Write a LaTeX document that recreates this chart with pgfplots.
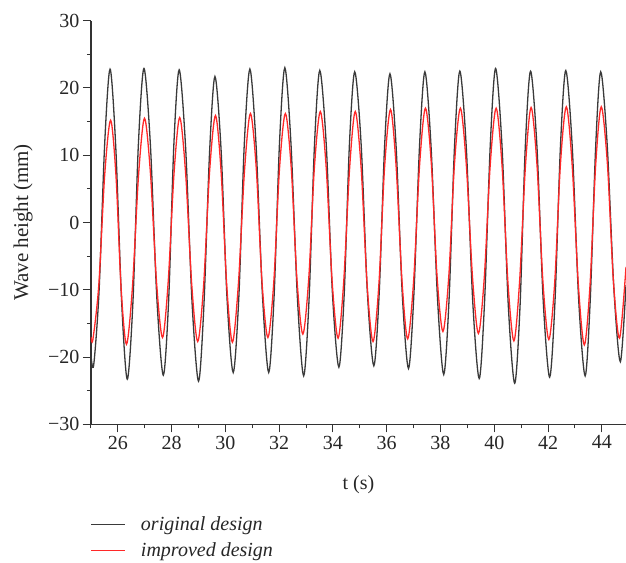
\documentclass[border=0pt]{standalone}
\usepackage{fontspec}
\setmainfont{Liberation Serif}
\usepackage{pgfplots}
\pgfplotsset{compat=1.18}
\definecolor{origc}{HTML}{3A3A3A}
\definecolor{imprc}{HTML}{FF2828}
\definecolor{axc}{HTML}{333333}
\newcommand{\ff}{\fontsize{20bp}{24bp}\selectfont}
\begin{document}
\begin{tikzpicture}
\begin{axis}[
  at={(0,0)}, anchor=south west,
  scale only axis, width=535bp, height=403.6bp,
  xmin=25, xmax=44.9, ymin=-30, ymax=30,
  axis lines=left,
  axis line style={-, draw=axc, line width=1.2bp},
  x axis line style={shorten <=-8bp},
  xtick={26,28,...,44}, xticklabels={26,28,30,32,34,36,38,40,42,44},
  minor xtick={25,27,...,45},
  ytick={-30,-20,...,30}, yticklabels={−30,−20,−10,0,10,20,30},
  minor ytick={-25,-15,...,25},
  tick align=outside, major tick length=8bp, minor tick length=4bp,
  every tick/.style={draw=axc, line width=1bp},
  tick label style={font=\ff, text=black!85},
  xlabel={t (s)}, ylabel={Wave height (mm)},
  label style={font=\ff, text=black!85},
  xlabel style={at={(axis description cs:0.5,-0.1487)}, anchor=center},
  ylabel style={at={(axis description cs:-0.1271,0.5)}, anchor=center, font=\fontsize{21bp}{25bp}\selectfont},
  legend style={at={(axis description cs:0,-0.2297)}, anchor=north west,
    draw=none, fill=none, inner sep=0pt, outer sep=0pt,
    font=\ff\itshape, text=black!85, row sep=10bp, column sep=15bp,
    nodes={inner sep=0pt}},
  legend cell align=left,
  legend image code/.code={\draw[#1, line width=1bp] (0bp,0bp) -- (34bp,0bp);},
  clip=true,
]
\addplot[origc, line width=1.3bp, smooth] coordinates {
(25.00,-19.8)(25.10,-21.2)(25.30,-10.2)(25.51,11.8)(25.71,22.8)(25.92,11.3)(26.14,-11.8)(26.35,-23.3)
(26.56,-11.8)(26.76,11.4)(26.97,22.9)(27.21,11.5)(27.45,-11.3)(27.69,-22.7)(27.89,-11.4)(28.08,11.4)
(28.28,22.7)(28.52,11.1)(28.76,-12.0)(29.00,-23.6)(29.20,-12.3)(29.41,10.4)(29.61,21.7)(29.84,10.7)
(30.06,-11.3)(30.29,-22.3)(30.50,-11.0)(30.70,11.5)(30.91,22.8)(31.14,11.5)(31.38,-11.0)(31.61,-22.3)
(31.81,-11.0)(32.01,11.7)(32.21,23.0)(32.44,11.6)(32.68,-11.4)(32.91,-22.8)(33.11,-11.5)(33.31,11.3)
(33.51,22.6)(33.75,11.6)(33.98,-10.5)(34.22,-21.5)(34.42,-10.5)(34.61,11.4)(34.81,22.4)(35.05,11.5)
(35.28,-10.4)(35.52,-21.3)(35.72,-10.5)(35.92,11.3)(36.12,22.1)(36.35,11.2)(36.58,-10.8)(36.81,-21.7)
(37.01,-10.7)(37.22,11.4)(37.42,22.4)(37.65,11.2)(37.89,-11.4)(38.12,-22.6)(38.32,-11.3)(38.52,11.2)
(38.72,22.5)(38.96,11.1)(39.20,-11.8)(39.44,-23.2)(39.64,-11.7)(39.85,11.4)(40.05,22.9)(40.29,11.2)
(40.52,-12.2)(40.76,-23.9)(40.96,-12.3)(41.15,10.9)(41.35,22.5)(41.59,11.1)(41.82,-11.6)(42.06,-23.0)
(42.26,-11.6)(42.46,11.2)(42.66,22.6)(42.90,11.3)(43.14,-11.5)(43.38,-22.8)(43.57,-11.5)(43.77,11.1)
(43.96,22.4)(44.20,11.6)(44.45,-9.9)(44.69,-20.7)(44.90,-9.3)
};
\addlegendentry{original design}
\addplot[imprc, line width=1.3bp, smooth] coordinates {
(25.00,-17.0)(25.07,-17.4)(25.29,-9.3)(25.51,7.1)(25.73,15.2)(25.93,6.9)(26.12,-9.8)(26.32,-18.1)
(26.54,-9.7)(26.77,7.1)(26.99,15.5)(27.21,7.4)(27.44,-9.0)(27.66,-17.1)(27.87,-8.9)(28.09,7.4)
(28.30,15.6)(28.52,7.3)(28.75,-9.4)(28.97,-17.7)(29.19,-9.3)(29.41,7.5)(29.63,15.9)(29.84,7.5)
(30.05,-9.4)(30.26,-17.8)(30.48,-9.3)(30.71,7.7)(30.93,16.2)(31.15,7.9)(31.36,-8.8)(31.58,-17.1)
(31.80,-8.8)(32.01,7.9)(32.23,16.2)(32.45,8.0)(32.66,-8.4)(32.88,-16.6)(33.10,-8.3)(33.31,8.2)
(33.53,16.5)(33.75,8.1)(33.97,-8.8)(34.19,-17.2)(34.40,-8.8)(34.62,8.1)(34.83,16.5)(35.05,8.0)
(35.27,-9.2)(35.49,-17.7)(35.71,-9.1)(35.92,8.2)(36.14,16.8)(36.35,8.3)(36.57,-8.8)(36.78,-17.3)
(37.00,-8.7)(37.22,8.4)(37.44,17.0)(37.66,8.7)(37.87,-7.9)(38.09,-16.2)(38.31,-7.9)(38.52,8.7)
(38.74,17.0)(38.96,8.6)(39.19,-8.1)(39.41,-16.5)(39.63,-8.1)(39.85,8.6)(40.07,17.0)(40.29,8.4)
(40.51,-9.0)(40.73,-17.6)(40.94,-8.9)(41.16,8.4)(41.37,17.1)(41.59,8.5)(41.81,-8.8)(42.03,-17.4)
(42.25,-8.8)(42.46,8.6)(42.68,17.2)(42.90,8.4)(43.13,-9.4)(43.35,-18.2)(43.56,-9.4)(43.77,8.4)
(43.98,17.2)(44.21,8.6)(44.43,-8.6)(44.66,-17.2)(44.90,-6.6)
};
\addlegendentry{improved design}
\end{axis}
\pgfresetboundingbox
\useasboundingbox (-91bp,-138.7bp) rectangle (535bp,424.3bp);
\end{tikzpicture}
\end{document}
